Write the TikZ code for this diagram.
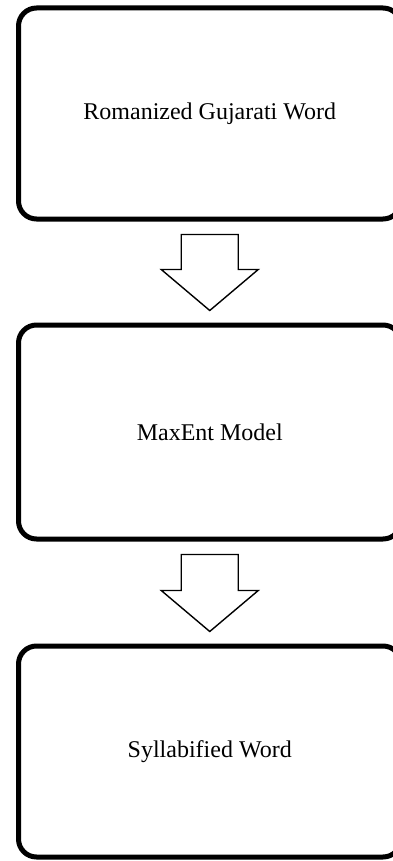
\documentclass[tikz,border=0pt]{standalone}
\usepackage{fontspec}
\setmainfont{Liberation Serif}
\usetikzlibrary{calc}
\tikzset{
  stepbox/.style={draw=black, line width=5pt, rounded corners=18pt, fill=white,
    minimum width=382.5pt, align=center, inner sep=0pt,
    font=\fontsize{24}{28}\selectfont},
  blockarr/.style={draw=black, line width=1.4pt, fill=white, line join=miter},
}
\newcommand{\flowarrow}[2]{%
  \draw[blockarr] let \p1=($(#1.south)+(0,13)$), \p2=($(#2.north)+(0,-12)$) in
    (\x1-28.5,\y1) -- (\x1+28.5,\y1) -- (\x1+28.5,\y2+41pt) -- (\x1+48.5,\y2+41pt)
    -- (\x1,\y2) -- (\x1-48.5,\y2+41pt) -- (\x1-28.5,\y2+41pt) -- cycle;}
\begin{document}
\begin{tikzpicture}[x=1pt,y=-1pt]
\useasboundingbox (0,0) rectangle (393,861);
\clip (0,0) rectangle (393,861);
\node[stepbox, minimum height=211pt] (b1) at (209.75,113.5) {Romanized Gujarati Word};
\node[stepbox, minimum height=214pt] (b2) at (209.75,432) {MaxEnt Model};
\node[stepbox, minimum height=211pt] (b3) at (209.75,751.5) {Syllabified Word};
\flowarrow{b1}{b2}
\flowarrow{b2}{b3}
\end{tikzpicture}
\end{document}
